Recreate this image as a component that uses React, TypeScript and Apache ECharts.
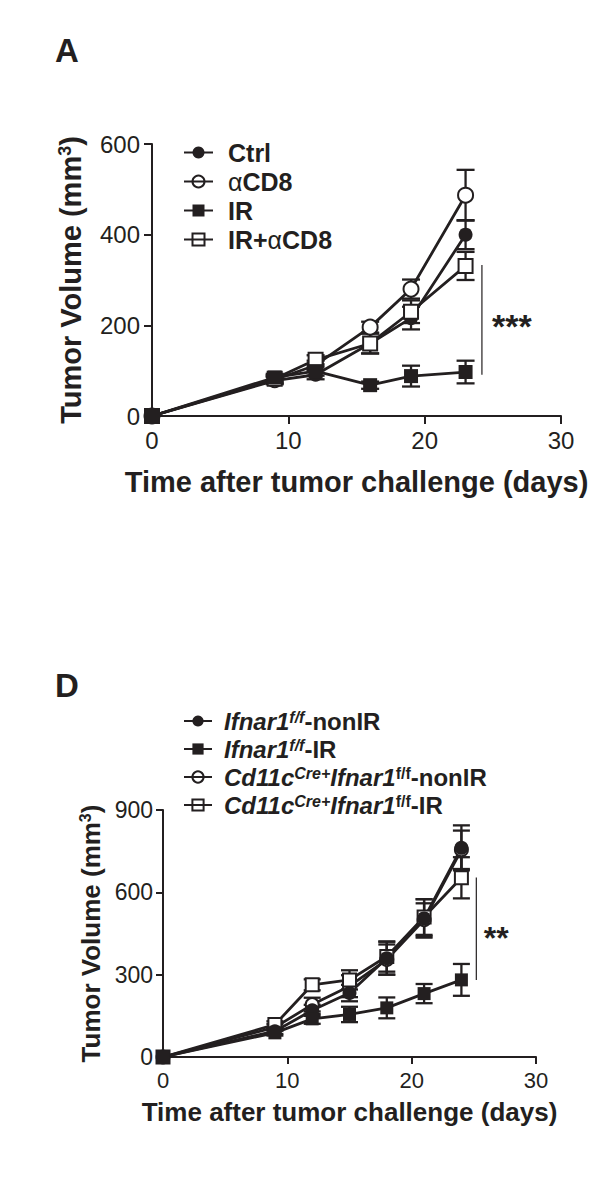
import React, { useEffect, useRef } from 'react';
import * as echarts from 'echarts';

// ---------- Panel A data ----------
const daysA = [0, 9, 12, 16, 19, 23];
const ctrlMean = [0, 78, 91, 160, 216, 400];
const ctrlErr = [0, 8, 10, 22, 25, 32];
const cd8Mean = [0, 80, 112, 196, 280, 487];
const cd8Err = [0, 8, 10, 12, 21, 56];
const irMean = [0, 85, 99, 68, 88, 97];
const irErr = [0, 8, 10, 8, 23, 25];
const irCd8Mean = [0, 82, 124, 160, 230, 331];
const irCd8Err = [0, 8, 10, 22, 25, 31];
const yRangeA = [0, 600, 200]; // min, max, interval
const xRange = [0, 30, 10];
const sigA = [24.2, 91, 333]; // x, yLow, yHigh
const sigLabelA = [26.4, 198];
const starsA = '***';

// ---------- Panel D data ----------
const daysD = [0, 9, 12, 15, 18, 21, 24];
const ffNonMean = [0, 94, 170, 233, 360, 505, 762];
const ffNonErr = [0, 10, 20, 30, 60, 70, 82];
const ffIrMean = [0, 88, 139, 155, 179, 231, 281];
const ffIrErr = [0, 10, 18, 28, 38, 35, 58];
const cdNonMean = [0, 108, 191, 258, 355, 500, 755];
const cdNonErr = [0, 12, 25, 40, 55, 60, 70];
const cdIrMean = [0, 118, 263, 281, 366, 510, 653];
const cdIrErr = [0, 12, 20, 35, 55, 65, 75];
const yRangeD = [0, 900, 300];
const sigD = [25.2, 281, 654];
const sigLabelD = [26.8, 433];
const starsD = '**';

const namesA = ['Ctrl', 'αCD8', 'IR', 'IR+αCD8'];
const namesD = [
  'Ifnar1f/f-nonIR',
  'Ifnar1f/f-IR',
  'Cd11cCre+Ifnar1f/f-nonIR',
  'Cd11cCre+Ifnar1f/f-IR',
];

const INK = '#231f20';
const FONT = '"Liberation Sans", Arial, Helvetica, sans-serif';

function lineSeries(name: string, days: number[], mean: number[], symbol: string, filled: boolean, g: number, size: number) {
  return {
    type: 'line',
    name,
    xAxisIndex: g,
    yAxisIndex: g,
    data: days.map((d, i) => [d, mean[i]]),
    symbol,
    symbolSize: size,
    showSymbol: true,
    showAllSymbol: true,
    lineStyle: { color: INK, width: 2.8 },
    itemStyle: {
      color: filled ? INK : '#ffffff',
      borderColor: INK,
      borderWidth: filled ? 0 : 2,
    },
    z: 3,
    silent: true,
    emphasis: { disabled: true },
  };
}

function errSeries(name: string, days: number[], mean: number[], err: number[], g: number, hw: number) {
  return {
    type: 'custom',
    name: 'err-' + name,
    xAxisIndex: g,
    yAxisIndex: g,
    data: days.map((d, i) => [d, mean[i], err[i]]),
    encode: { x: 0, y: 1 },
    z: 2,
    silent: true,
    renderItem: (params: any, api: any) => {
      const x = api.value(0);
      const y = api.value(1);
      const e = api.value(2);
      if (!e) return { type: 'group', children: [] };
      const top = api.coord([x, y + e]);
      const bot = api.coord([x, y - e]);
      const st = { stroke: INK, lineWidth: 2.3 };
      return {
        type: 'group',
        children: [
          { type: 'line', shape: { x1: top[0], y1: top[1], x2: bot[0], y2: bot[1] }, style: st },
          { type: 'line', shape: { x1: top[0] - hw, y1: top[1], x2: top[0] + hw, y2: top[1] }, style: st },
          { type: 'line', shape: { x1: bot[0] - hw, y1: bot[1], x2: bot[0] + hw, y2: bot[1] }, style: st },
        ],
      };
    },
  };
}

function sigSeries(g: number, sig: number[], lab: number[], text: string, fs: number) {
  return [
    {
      type: 'line',
      name: 'sig' + g,
      xAxisIndex: g,
      yAxisIndex: g,
      data: [[sig[0], sig[1]], [sig[0], sig[2]]],
      symbol: 'none',
      lineStyle: { color: INK, width: 1.2 },
      silent: true,
      z: 1,
    },
    {
      type: 'custom',
      name: 'stars' + g,
      xAxisIndex: g,
      yAxisIndex: g,
      data: [lab],
      encode: { x: 0, y: 1 },
      silent: true,
      z: 4,
      renderItem: (params: any, api: any) => {
        const p = api.coord([api.value(0), api.value(1)]);
        return {
          type: 'text',
          x: p[0],
          y: p[1],
          style: {
            text,
            font: 'bold ' + fs + 'px ' + FONT,
            fill: INK,
            align: 'center',
            verticalAlign: 'middle',
          },
        };
      },
    },
  ];
}

function axisCommon(fs: number, margin: number, tickLen: number) {
  return {
    axisLine: { show: true, lineStyle: { color: INK, width: 2 } },
    axisTick: { show: true, inside: false, length: tickLen, lineStyle: { color: INK, width: 2 } },
    axisLabel: { fontSize: fs, fontFamily: FONT, color: INK, margin },
    splitLine: { show: false },
  };
}

const legendFormatterA = (n: string) => {
  if (n === 'αCD8') return '{g|α}{b|CD8}';
  if (n === 'IR+αCD8') return '{b|IR+}{g|α}{b|CD8}';
  return '{b|' + n + '}';
};

const legendFormatterD = (n: string) => {
  const suffix = n.endsWith('-nonIR') ? '-nonIR' : '-IR';
  if (n.startsWith('Cd11c')) return '{i|Cd11c}{si|Cre+}{i|Ifnar1}{s|f/f}{b|' + suffix + '}';
  return '{i|Ifnar1}{si|f/f}{b|' + suffix + '}';
};

export default function App() {
  const ref = useRef<HTMLDivElement>(null);
  useEffect(() => {
    document.body.style.margin = '0';
    if (!ref.current) return;
    const chart = echarts.init(ref.current, undefined, { renderer: 'svg' });
    const open = { color: 'rgba(0,0,0,0)' };
    const option: any = {
      animation: false,
      backgroundColor: '#ffffff',
      textStyle: { fontFamily: FONT },
      grid: [
        { left: 152, top: 144, width: 409, height: 272 },
        { left: 163, top: 810, width: 373, height: 247 },
      ],
      xAxis: [
        {
          type: 'value', gridIndex: 0, min: xRange[0], max: xRange[1], interval: xRange[2],
          ...axisCommon(24, 12, 8),
          name: 'Time after tumor challenge (days)', nameLocation: 'middle', nameGap: 51,
          nameTextStyle: { fontSize: 29, fontWeight: 'bold', fontFamily: FONT, color: INK },
        },
        {
          type: 'value', gridIndex: 1, min: xRange[0], max: xRange[1], interval: xRange[2],
          ...axisCommon(22, 12, 7),
          name: 'Time after tumor challenge (days)', nameLocation: 'middle', nameGap: 42,
          nameTextStyle: { fontSize: 26, fontWeight: 'bold', fontFamily: FONT, color: INK },
        },
      ],
      yAxis: [
        {
          type: 'value', gridIndex: 0, min: yRangeA[0], max: yRangeA[1], interval: yRangeA[2],
          ...axisCommon(24, 12, 8),
          name: '{a|Tumor Volume (mm}{s|3}{a|)}', nameLocation: 'middle', nameGap: 67, nameRotate: 90,
          nameTextStyle: {
            color: INK,
            rich: {
              a: { fontSize: 29, fontWeight: 'bold', fontFamily: FONT, color: INK, lineHeight: 29 },
              s: { fontSize: 18, fontWeight: 'bold', fontFamily: FONT, color: INK, lineHeight: 18, verticalAlign: 'top' },
            },
          },
        },
        {
          type: 'value', gridIndex: 1, min: yRangeD[0], max: yRangeD[1], interval: yRangeD[2],
          ...axisCommon(23, 10, 7),
          name: '{a|Tumor Volume (mm}{s|3}{a|)}', nameLocation: 'middle', nameGap: 59, nameRotate: 90,
          nameTextStyle: {
            color: INK,
            rich: {
              a: { fontSize: 26, fontWeight: 'bold', fontFamily: FONT, color: INK, lineHeight: 26 },
              s: { fontSize: 16, fontWeight: 'bold', fontFamily: FONT, color: INK, lineHeight: 16, verticalAlign: 'top' },
            },
          },
        },
      ],
      legend: [
        {
          orient: 'vertical', left: 178, top: 135, itemWidth: 29, itemHeight: 15, itemGap: 4,
          selectedMode: false,
          data: [
            { name: namesA[0] },
            { name: namesA[1], itemStyle: open },
            { name: namesA[2] },
            { name: namesA[3], itemStyle: open },
          ],
          formatter: legendFormatterA,
          textStyle: {
            color: INK, padding: [0, 0, 0, 10], lineHeight: 24,
            rich: {
              b: { fontSize: 25, fontWeight: 'bold', fontFamily: FONT, color: INK, lineHeight: 24 },
              g: { fontSize: 25, fontWeight: 'normal', fontFamily: FONT, color: INK, lineHeight: 24 },
            },
          },
        },
        {
          orient: 'vertical', left: 178, top: 704, itemWidth: 28, itemHeight: 14, itemGap: 4,
          selectedMode: false,
          data: [
            { name: namesD[0] },
            { name: namesD[1] },
            { name: namesD[2], itemStyle: open },
            { name: namesD[3], itemStyle: open },
          ],
          formatter: legendFormatterD,
          textStyle: {
            color: INK, padding: [0, 0, 0, 7], lineHeight: 24,
            rich: {
              i: { fontSize: 24, fontWeight: 'bold', fontStyle: 'italic', fontFamily: FONT, color: INK, lineHeight: 24 },
              b: { fontSize: 24, fontWeight: 'bold', fontFamily: FONT, color: INK, lineHeight: 24 },
              si: { fontSize: 16, fontWeight: 'bold', fontStyle: 'italic', fontFamily: FONT, color: INK, lineHeight: 16, verticalAlign: 'top' },
              s: { fontSize: 16, fontWeight: 'bold', fontFamily: FONT, color: INK, lineHeight: 16, verticalAlign: 'top' },
            },
          },
        },
      ],
      graphic: [
        { type: 'text', x: 55, y: 50, style: { text: 'A', font: 'bold 33px ' + FONT, fill: INK, verticalAlign: 'middle' } },
        { type: 'text', x: 55, y: 685, style: { text: 'D', font: 'bold 33px ' + FONT, fill: INK, verticalAlign: 'middle' } },
      ],
      series: [
        errSeries(namesA[0], daysA, ctrlMean, ctrlErr, 0, 9),
        errSeries(namesA[1], daysA, cd8Mean, cd8Err, 0, 9),
        errSeries(namesA[2], daysA, irMean, irErr, 0, 9),
        errSeries(namesA[3], daysA, irCd8Mean, irCd8Err, 0, 9),
        lineSeries(namesA[0], daysA, ctrlMean, 'circle', true, 0, 14),
        lineSeries(namesA[1], daysA, cd8Mean, 'circle', false, 0, 15),
        lineSeries(namesA[3], daysA, irCd8Mean, 'rect', false, 0, 14),
        lineSeries(namesA[2], daysA, irMean, 'rect', true, 0, 14),
        ...sigSeries(0, sigA, sigLabelA, starsA, 34),
        errSeries(namesD[0], daysD, ffNonMean, ffNonErr, 1, 8.5),
        errSeries(namesD[1], daysD, ffIrMean, ffIrErr, 1, 8.5),
        errSeries(namesD[2], daysD, cdNonMean, cdNonErr, 1, 8.5),
        errSeries(namesD[3], daysD, cdIrMean, cdIrErr, 1, 8.5),
        lineSeries(namesD[2], daysD, cdNonMean, 'circle', false, 1, 13),
        lineSeries(namesD[3], daysD, cdIrMean, 'rect', false, 1, 13),
        lineSeries(namesD[0], daysD, ffNonMean, 'circle', true, 1, 14),
        lineSeries(namesD[1], daysD, ffIrMean, 'rect', true, 1, 13),
        ...sigSeries(1, sigD, sigLabelD, starsD, 32),
      ],
    };
    chart.setOption(option);
    return () => chart.dispose();
  }, []);
  return <div ref={ref} style={{ width: 601, height: 1181 }} />;
}
